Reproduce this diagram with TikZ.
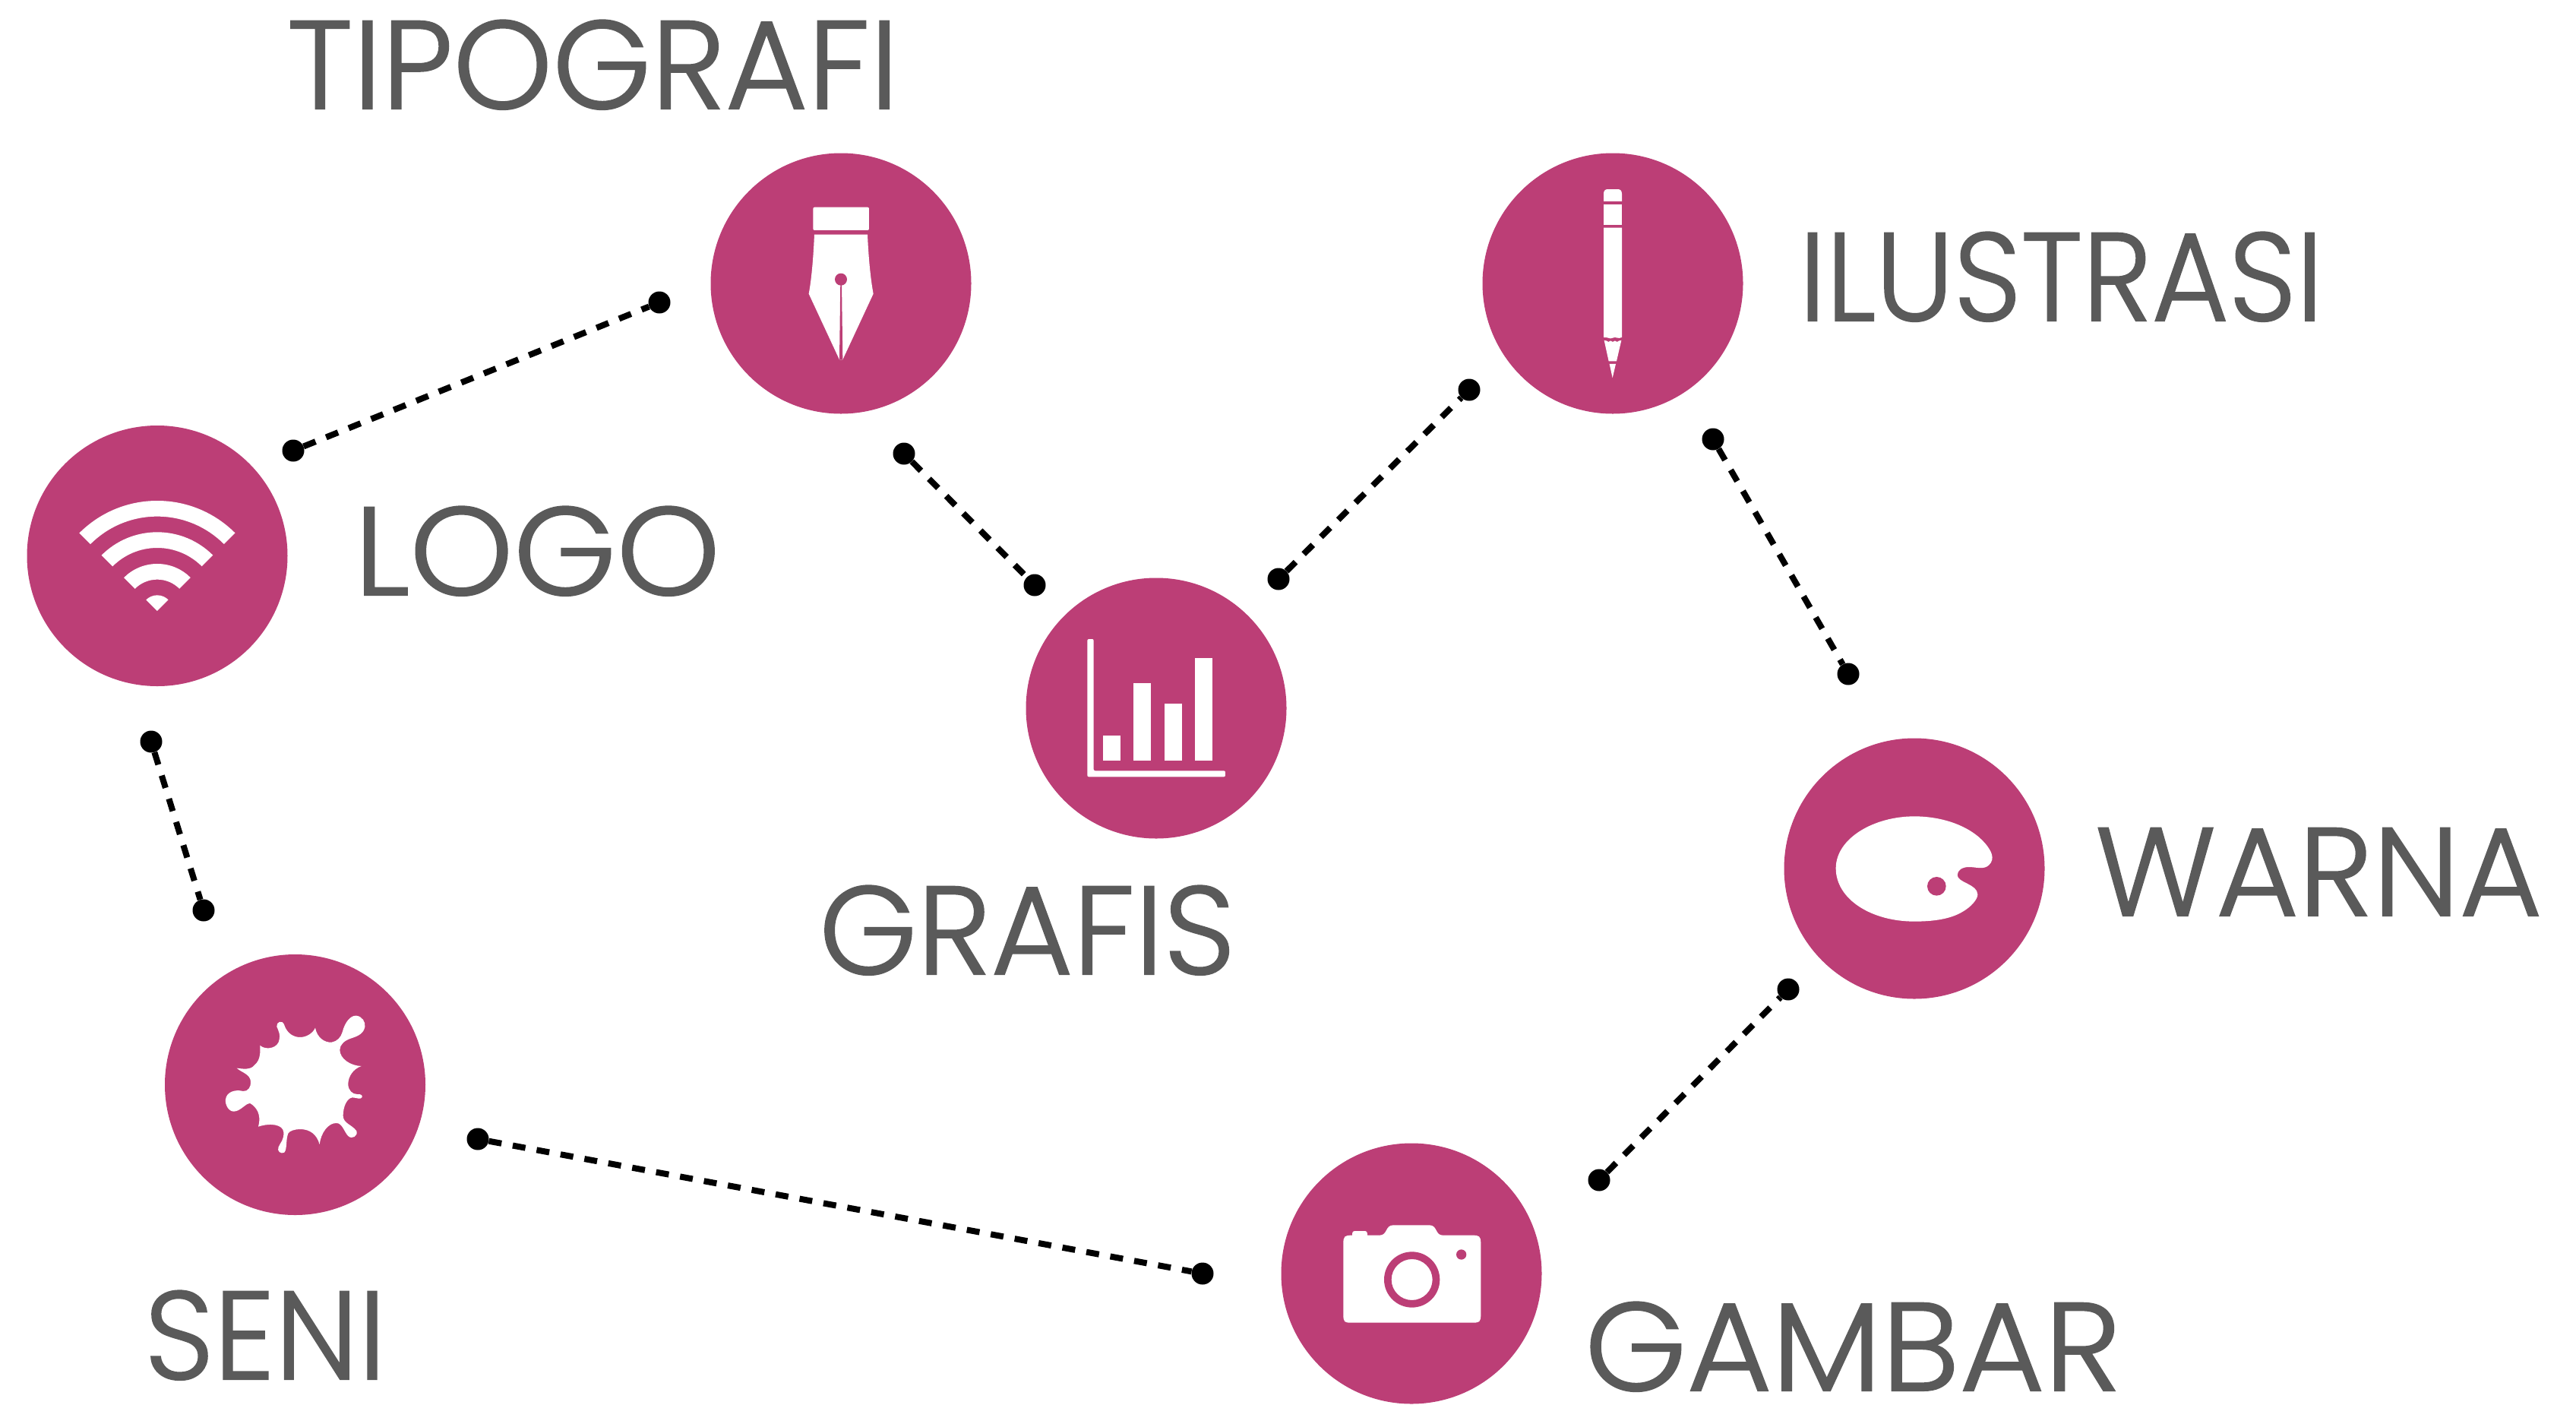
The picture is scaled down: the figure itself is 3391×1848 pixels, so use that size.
\documentclass[tikz,border=0pt]{standalone}
\usepackage{fontspec}
\setmainfont[FakeBold=1.2]{Poppins Light}
\definecolor{berry}{HTML}{BC3E76}
\definecolor{labelgray}{HTML}{5A5A5A}
\tikzset{
  hub/.style={circle,fill=berry,inner sep=0pt,minimum size=343pt},
  pin/.style={circle,fill=black,inner sep=0pt,minimum size=29pt},
  link/.style={line width=8pt,dash pattern=on 17pt off 15pt,black},
  caption/.style={anchor=base west,inner sep=0pt,text=labelgray},
  glyph/.style={fill=white,draw=none},
  hole/.style={fill=berry,draw=none}
}
\newcommand{\lbl}[2]{\resizebox{#1pt}{\height}{\fontsize{165}{165}\selectfont #2}}
\begin{document}
\begin{tikzpicture}[x=1pt,y=-1pt]
\useasboundingbox (0,0) rectangle (3391,1848);
% hubs
\node[hub] (tipografi) at (1107,373) {};
\node[hub] (logo) at (207,731.5) {};
\node[hub] (seni) at (388.5,1427.5) {};
\node[hub] (gambar) at (1858,1676) {};
\node[hub] (warna) at (2520,1143) {};
\node[hub] (ilustrasi) at (2123,373) {};
\node[hub] (grafis) at (1522,932) {};
% pins
\node[pin] (a1) at (868,398) {};
\node[pin] (a2) at (386,593) {};
\node[pin] (b1) at (1190,597) {};
\node[pin] (b2) at (1362,770) {};
\node[pin] (c1) at (1934,513) {};
\node[pin] (c2) at (1683,762) {};
\node[pin] (d1) at (2255,578) {};
\node[pin] (d2) at (2433,887) {};
\node[pin] (e1) at (2354,1302) {};
\node[pin] (e2) at (2105,1553) {};
\node[pin] (f1) at (1583,1676) {};
\node[pin] (f2) at (629,1499) {};
\node[pin] (g1) at (268,1198) {};
\node[pin] (g2) at (199,976) {};
% links
\draw[link] (a2) -- (a1);
\draw[link] (b1) -- (b2);
\draw[link] (c2) -- (c1);
\draw[link] (d1) -- (d2);
\draw[link] (e2) -- (e1);
\draw[link] (f2) -- (f1);
\draw[link] (g2) -- (g1);
% captions
\node[caption] (t1) at (378,143) {\lbl{805}{TIPOGRAFI}};
\node[caption] (t2) at (466,783) {\lbl{482}{LOGO}};
\node[caption] (t3) at (2368,422) {\lbl{690}{ILUSTRASI}};
\node[caption] (t4) at (1078,1282) {\lbl{548}{GRAFIS}};
\node[caption] (t5) at (2758,1205) {\lbl{588}{WARNA}};
\node[caption] (t6) at (190,1815) {\lbl{318}{SENI}};
\node[caption] (t7) at (2086,1830) {\lbl{706}{GAMBAR}};
% pen icon
\begin{scope}[shift={(920,190)},x=0.3333pt,y=-0.3333pt]
\fill[glyph,rounded corners=2pt] (451,248) rectangle (672,339);
\fill[glyph] (456,356)--(666,356) .. controls (670,450) and (678,530) .. (689,590)--(568,850)--(555,850)--(434,590) .. controls (445,530) and (452,450) .. (456,356)--cycle;
\fill[hole] (559,545)--(564,545)--(568,850)--(555,850)--cycle;
\fill[hole] (561,533) circle[radius=24];
\end{scope}
% wifi icon
\begin{scope}[shift={(20,550)},x=0.3333pt,y=-0.3333pt]
\begin{scope}
\clip (561,762)--(-400,-199)--(1522,-199)--cycle;
\fill[glyph,even odd rule] (561,762) circle[radius=435] circle[radius=373] circle[radius=311] circle[radius=249] circle[radius=186] circle[radius=124] circle[radius=62];
\end{scope}
\end{scope}
% splash icon
\begin{scope}[shift={(210,1250)},x=0.3333pt,y=-0.3333pt]
\fill[glyph] (397,377)
.. controls (410,392) and (455,395) .. (470,365)
.. controls (480,335) and (470,320) .. (463,303)
.. controls (460,285) and (485,275) .. (492,295)
.. controls (505,335) and (535,345) .. (555,345)
.. controls (580,345) and (605,330) .. (615,308)
.. controls (622,345) and (650,367) .. (680,365)
.. controls (700,362) and (717,345) .. (722,325)
.. controls (732,285) and (755,258) .. (777,260)
.. controls (800,262) and (815,285) .. (811,305)
.. controls (805,335) and (775,343) .. (755,350)
.. controls (730,358) and (712,375) .. (712,395)
.. controls (712,430) and (755,458) .. (797,459)
.. controls (765,470) and (745,500) .. (745,530)
.. controls (745,555) and (762,570) .. (780,570)
.. controls (795,568) and (803,575) .. (800,582)
.. controls (795,593) and (775,583) .. (762,583)
.. controls (740,585) and (725,620) .. (725,655)
.. controls (725,685) and (760,690) .. (778,715)
.. controls (785,735) and (760,750) .. (745,735)
.. controls (730,720) and (722,685) .. (700,684)
.. controls (665,682) and (637,725) .. (632,768)
.. controls (622,730) and (595,708) .. (555,708)
.. controls (535,708) and (512,715) .. (508,725)
.. controls (498,750) and (505,785) .. (493,800)
.. controls (480,808) and (462,795) .. (470,778)
.. controls (478,760) and (492,750) .. (490,720)
.. controls (488,690) and (440,682) .. (390,698)
.. controls (398,670) and (398,630) .. (358,606)
.. controls (340,605) and (320,638) .. (293,638)
.. controls (272,638) and (258,610) .. (261,590)
.. controls (265,560) and (300,550) .. (330,558)
.. controls (350,560) and (362,540) .. (360,520)
.. controls (358,490) and (325,485) .. (305,467)
.. controls (330,470) and (360,475) .. (375,455)
.. controls (400,435) and (398,400) .. (397,377) -- cycle;
\end{scope}
% camera icon
\begin{scope}[shift={(1690,1500)},x=0.3333pt,y=-0.3333pt]
\fill[glyph] (270,377) .. controls (270,365) and (272,360) .. (282,360) -- (318,360) .. controls (328,360) and (330,365) .. (330,377) -- (378,377) .. controls (410,377) and (400,337) .. (432,337) -- (575,337) .. controls (607,337) and (597,377) .. (628,377) -- (745,377) .. controls (772,377) and (778,380) .. (778,410) -- (778,690) .. controls (778,720) and (772,722) .. (745,722) -- (265,722) .. controls (240,722) and (235,720) .. (235,690) -- (235,410) .. controls (235,380) and (240,377) .. (270,377) -- cycle;
\fill[hole,even odd rule] (506,552) circle[radius=110] circle[radius=81];
\fill[hole] (701,453) circle[radius=20];
\end{scope}
% palette icon
\begin{scope}[shift={(2350,970)},x=0.3333pt,y=-0.3333pt]
\fill[glyph] (200,518) .. controls (200,400) and (350,313) .. (510,313)
.. controls (620,313) and (730,350) .. (790,420)
.. controls (815,450) and (830,480) .. (805,505)
.. controls (785,525) and (755,513) .. (725,513)
.. controls (700,513) and (680,525) .. (680,545)
.. controls (680,575) and (760,580) .. (760,622)
.. controls (760,640) and (735,670) .. (700,690)
.. controls (650,720) and (580,728) .. (510,728)
.. controls (340,728) and (200,640) .. (200,518) -- cycle;
\fill[hole] (598,589) circle[radius=37];
\end{scope}
% pencil icon
\begin{scope}[shift={(1950,190)},x=0.3333pt,y=-0.3333pt]
\fill[glyph] (483,225) -- (483,195) .. controls (483,182) and (490,177) .. (500,177) -- (538,177) .. controls (548,177) and (555,182) .. (555,195) -- (555,225) -- cycle;
\fill[glyph] (483,236) rectangle (555,318);
\fill[glyph] (483,329) -- (555,329) -- (555,762) .. controls (548,764) and (542,766) .. (537,764) .. controls (530,761) and (526,761) .. (519,764) .. controls (512,767) and (508,767) .. (501,764) .. controls (495,762) and (490,762) .. (483,762) -- cycle;
\fill[glyph] (485,774) .. controls (492,776) and (497,774) .. (502,780) .. controls (507,774) and (513,774) .. (519,780) .. controls (525,774) and (531,774) .. (536,780) .. controls (541,774) and (546,776) .. (553,774) -- (534,856) -- (503,856) -- cycle;
\fill[glyph] (506,867) -- (531,867) -- (518,922) -- cycle;
\end{scope}
% chart icon
\begin{scope}[shift={(1350,760)},x=0.3333pt,y=-0.3333pt]
\fill[glyph,rounded corners=2pt] (244,243) -- (269,243) -- (269,763) -- (789,763) -- (789,787) -- (244,787) -- cycle;
\fill[glyph] (306,625) rectangle (375,723);
\fill[glyph] (427,418) rectangle (496,723);
\fill[glyph] (549,498) rectangle (617,723);
\fill[glyph] (669,319) rectangle (738,723);
\end{scope}
\end{tikzpicture}
\end{document}
